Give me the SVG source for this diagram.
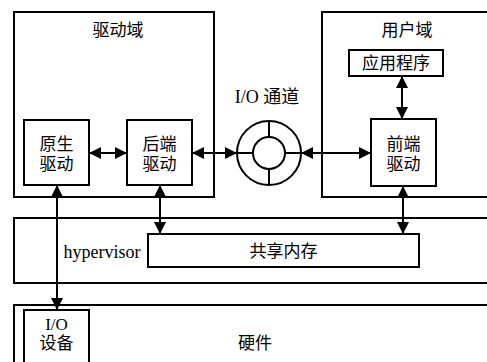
<svg xmlns="http://www.w3.org/2000/svg" width="487" height="362" viewBox="0 0 487 362">
  <defs>
    <marker id="ah" viewBox="0 0 12 12" refX="12" refY="6" markerWidth="12" markerHeight="12" markerUnits="userSpaceOnUse" orient="auto-start-reverse">
      <path d="M0,0 L12,6 L0,12 Z" fill="#000"/>
    </marker>
    <style>
      rect { fill: #fff; stroke: #000; stroke-width: 2; }
      .ring { fill: #fff; stroke: #000; stroke-width: 2; }
      .spoke { stroke: #000; stroke-width: 2; fill: none; }
      .cn { font-family: "Liberation Serif", "Noto Sans CJK SC", serif; font-size: 17px; fill: #000; text-anchor: middle; }
      .en { font-family: "Liberation Serif", "Noto Sans CJK SC", serif; font-size: 18px; fill: #000; text-anchor: middle; }
      .sm { font-size: 17px; }
      .link { stroke: #000; stroke-width: 2; fill: none; marker-start: url(#ah); marker-end: url(#ah); }
    </style>
  </defs>
  <rect width="487" height="362" style="fill:#fff;stroke:none"/>

  <!-- layers -->
  <g id="hardware">
    <rect x="14" y="305" width="480" height="70"/>
    <text class="cn" x="255" y="349">硬件</text>
  </g>
  <g id="hypervisor">
    <rect x="14" y="218" width="480" height="65"/>
    <text class="en" x="102" y="258">hypervisor</text>
  </g>
  <g id="driver-domain">
    <rect x="14" y="12" width="200" height="185"/>
    <text class="cn" x="118" y="36">驱动域</text>
  </g>
  <g id="user-domain">
    <rect x="322" y="12" width="170" height="185"/>
    <text class="cn" x="407" y="36">用户域</text>
  </g>

  <!-- inner nodes -->
  <g id="native-driver">
    <rect x="24" y="120" width="65" height="65"/>
    <text class="cn" x="56.5" y="150">原生</text>
    <text class="cn" x="56.5" y="170">驱动</text>
  </g>
  <g id="backend-driver">
    <rect x="127" y="120" width="65" height="65"/>
    <text class="cn" x="159.5" y="150">后端</text>
    <text class="cn" x="159.5" y="170">驱动</text>
  </g>
  <g id="frontend-driver">
    <rect x="371" y="119" width="65" height="67"/>
    <text class="cn" x="403.5" y="150">前端</text>
    <text class="cn" x="403.5" y="170">驱动</text>
  </g>
  <g id="application">
    <rect x="349" y="50" width="94" height="26"/>
    <text class="cn" x="396" y="69">应用程序</text>
  </g>
  <g id="io-channel">
    <circle class="ring" cx="269" cy="153" r="32"/>
    <circle class="ring" cx="269" cy="153" r="16"/>
    <path class="spoke" d="M269,121 V137 M269,169 V185 M237,153 H253 M285,153 H301"/>
    <text class="en" x="267" y="103">I/O 通道</text>
  </g>
  <g id="shared-memory">
    <rect x="148" y="234" width="271" height="33"/>
    <text class="cn" x="283.5" y="257">共享内存</text>
  </g>
  <g id="io-device">
    <rect x="24" y="310" width="65" height="60"/>
    <text class="en sm" x="56.5" y="330">I/O</text>
    <text class="cn" x="56.5" y="349">设备</text>
  </g>

  <!-- connectors -->
  <g id="connectors">
    <line class="link" x1="89" y1="153" x2="127" y2="153"/>
    <line class="link" x1="192" y1="153" x2="237" y2="153"/>
    <line class="link" x1="301" y1="153" x2="371" y2="153"/>
    <line class="link" x1="402" y1="76" x2="402" y2="119"/>
    <line class="link" x1="57" y1="185" x2="57" y2="310"/>
    <line class="link" x1="160" y1="185" x2="160" y2="234"/>
    <line class="link" x1="403" y1="186" x2="403" y2="234"/>
  </g>
</svg>
